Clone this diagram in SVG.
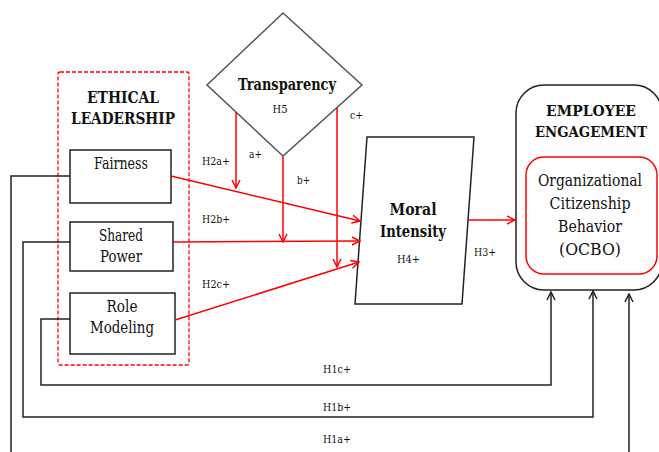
<svg xmlns="http://www.w3.org/2000/svg" width="659" height="452" viewBox="0 0 659 452">
<defs>
<style>
text{fill:#111;font-family:'DejaVu Serif',serif}
.b{font-weight:bold}
.c{text-anchor:middle}
.s{font-size:11px}
.m{font-size:16px}
.blk{fill:none;stroke:#222;stroke-width:1.5}
.red{fill:none;stroke:#f00;stroke-width:1.5}
</style>
<marker id="ar" markerWidth="10" markerHeight="10" refX="9" refY="5" orient="auto" markerUnits="userSpaceOnUse">
<path d="M1,1 L9,5 L1,9" fill="none" stroke="#f00" stroke-width="1.5"/>
</marker>
<marker id="ab" markerWidth="10" markerHeight="10" refX="9" refY="5" orient="auto" markerUnits="userSpaceOnUse">
<path d="M1,1 L9,5 L1,9" fill="none" stroke="#222" stroke-width="1.5"/>
</marker>
</defs>
<rect width="659" height="452" fill="#fff"/>
<g id="ethical-leadership">
<rect x="58" y="72" width="131" height="293" rx="2" fill="none" stroke="#f00" stroke-width="1.3" stroke-dasharray="4,2"/>
<text class="b c m" x="123" y="103" textLength="72" lengthAdjust="spacingAndGlyphs">ETHICAL</text>
<text class="b c m" x="123" y="124" textLength="104" lengthAdjust="spacingAndGlyphs">LEADERSHIP</text>
</g>
<g id="fairness">
<rect x="70" y="150" width="101" height="53" class="blk" fill="#fff"/>
<text class="c m" x="121" y="169" textLength="54" lengthAdjust="spacingAndGlyphs">Fairness</text>
</g>
<g id="shared-power">
<rect x="70" y="222" width="103" height="49" class="blk"/>
<text class="c m" x="121" y="241" textLength="44" lengthAdjust="spacingAndGlyphs">Shared</text>
<text class="c m" x="121" y="262" textLength="42" lengthAdjust="spacingAndGlyphs">Power</text>
</g>
<g id="role-modeling">
<rect x="70" y="293" width="105" height="61" class="blk"/>
<text class="c m" x="122" y="312" textLength="31" lengthAdjust="spacingAndGlyphs">Role</text>
<text class="c m" x="122" y="333" textLength="64" lengthAdjust="spacingAndGlyphs">Modeling</text>
</g>
<g id="transparency">
<polygon points="283,13 362,85 283,156 207,85" fill="#fff" stroke="#555" stroke-width="1.5"/>
<text class="b c m" x="287" y="90" textLength="98" lengthAdjust="spacingAndGlyphs">Transparency</text>
<text class="c s" x="280" y="113" textLength="15" lengthAdjust="spacingAndGlyphs">H5</text>
</g>
<g id="moral-intensity">
<polygon points="367,137 474,137 462,304 355,304" fill="#fff" stroke="#222" stroke-width="1.5"/>
<text class="b c" x="413" y="215" font-size="17" textLength="47" lengthAdjust="spacingAndGlyphs">Moral</text>
<text class="b c" x="413" y="237" font-size="17" textLength="66" lengthAdjust="spacingAndGlyphs">Intensity</text>
<text class="s" x="397" y="263" textLength="23" lengthAdjust="spacingAndGlyphs">H4+</text>
</g>
<g id="employee-engagement">
<rect x="516" y="85" width="146" height="205" rx="28" class="blk"/>
<text class="b c" x="591" y="116" font-size="15" textLength="90" lengthAdjust="spacingAndGlyphs">EMPLOYEE</text>
<text class="b c" x="591" y="137" font-size="14.5" textLength="112" lengthAdjust="spacingAndGlyphs">ENGAGEMENT</text>
</g>
<g id="ocbo">
<rect x="526" y="157" width="131" height="117" rx="18" fill="none" stroke="#f00" stroke-width="1.5"/>
<text class="c" x="590" y="186" font-size="16" textLength="104" lengthAdjust="spacingAndGlyphs">Organizational</text>
<text class="c" x="590" y="209" font-size="17" textLength="81" lengthAdjust="spacingAndGlyphs">Citizenship</text>
<text class="c" x="590" y="232" font-size="17" textLength="64" lengthAdjust="spacingAndGlyphs">Behavior</text>
<text class="c" x="590" y="255" font-size="17" textLength="62" lengthAdjust="spacingAndGlyphs">(OCBO)</text>
</g>

<g id="connectors">
<line class="red" x1="171" y1="176" x2="360" y2="221" marker-end="url(#ar)"/>
<line class="red" x1="173" y1="242" x2="360" y2="241" marker-end="url(#ar)"/>
<line class="red" x1="175" y1="320" x2="359" y2="262" marker-end="url(#ar)"/>
<line class="red" x1="236" y1="112" x2="236" y2="188" marker-end="url(#ar)"/>
<line class="red" x1="283" y1="156" x2="283" y2="242" marker-end="url(#ar)"/>
<line class="red" x1="337" y1="108" x2="337" y2="267" marker-end="url(#ar)"/>
<line class="red" x1="468" y1="220" x2="515" y2="220" marker-end="url(#ar)"/>
<polyline class="blk" points="70,176 11,176 11,460"/>
<polyline class="blk" points="629,460 629,294" marker-end="url(#ab)"/>
<polyline class="blk" points="70,242 23,242 23,417 593,417 593,291" marker-end="url(#ab)"/>
<polyline class="blk" points="70,319 41,319 41,385 551,385 551,292" marker-end="url(#ab)"/>
<text class="s" x="202" y="165" textLength="28" lengthAdjust="spacingAndGlyphs">H2a+</text>
<text class="s" x="202" y="223" textLength="28" lengthAdjust="spacingAndGlyphs">H2b+</text>
<text class="s" x="202" y="288" textLength="28" lengthAdjust="spacingAndGlyphs">H2c+</text>
<text class="s" x="249" y="158" textLength="13" lengthAdjust="spacingAndGlyphs">a+</text>
<text class="s" x="297" y="184" textLength="13" lengthAdjust="spacingAndGlyphs">b+</text>
<text class="s" x="350" y="119" textLength="13" lengthAdjust="spacingAndGlyphs">c+</text>
<text class="s" x="474" y="256" textLength="22" lengthAdjust="spacingAndGlyphs">H3+</text>
<text class="s c" x="337" y="373" textLength="28" lengthAdjust="spacingAndGlyphs">H1c+</text>
<text class="s c" x="337" y="411" textLength="28" lengthAdjust="spacingAndGlyphs">H1b+</text>
<text class="s c" x="337" y="443" textLength="28" lengthAdjust="spacingAndGlyphs">H1a+</text>
</g>
</svg>
